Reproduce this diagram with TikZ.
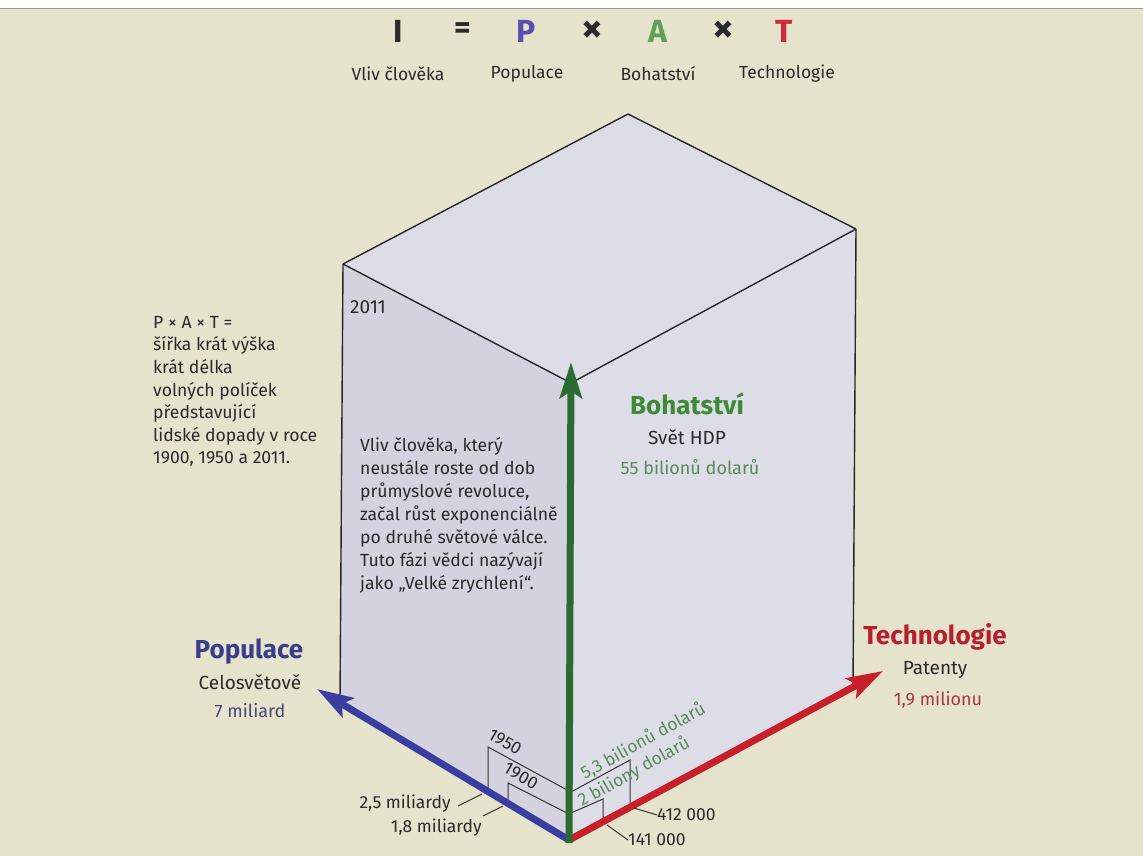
\documentclass[tikz,border=0pt]{standalone}
\usepackage{fontspec}
\setmainfont{Fira Sans}
\usetikzlibrary{arrows.meta}
\definecolor{bg}{HTML}{E6E3CD}
\definecolor{topface}{HTML}{DCDCE6}
\definecolor{leftface}{HTML}{D3D2DE}
\definecolor{rightface}{HTML}{DDDDE8}
\definecolor{popblue}{HTML}{3A3EA0}
\definecolor{wealthgreen}{HTML}{2B6B32}
\definecolor{techred}{HTML}{C8202B}
\definecolor{ptitle}{HTML}{383D8C}
\definecolor{pval}{HTML}{45467A}
\definecolor{atitle}{HTML}{3F8A35}
\definecolor{aval}{HTML}{5A8A5A}
\definecolor{ttitle}{HTML}{B51F2E}
\definecolor{tval}{HTML}{A8383C}
\definecolor{eqP}{HTML}{5B4FAE}
\definecolor{eqA}{HTML}{5EA257}
\definecolor{eqT}{HTML}{D0293B}
\definecolor{ink}{HTML}{2A2A2A}
\tikzset{
  edge/.style={draw=black!85, line width=1.4pt, line join=round},
  thin/.style={draw=black!80, line width=1pt},
  axisarrow/.style={line width=7pt, -{Stealth[length=36pt,width=22pt,inset=7pt]}},
  eq/.style={font=\fontsize{32}{32}\selectfont\bfseries, anchor=center, inner sep=0pt},
  eqx/.style={font=\fontsize{42}{42}\selectfont\bfseries, anchor=center, inner sep=0pt, text=ink},
  eqlab/.style={font=\fontsize{17.5}{17.5}\selectfont, text=ink, anchor=center, inner sep=0pt},
  body/.style={font=\fontsize{17.6}{22.6}\selectfont, text=ink, align=left, inner sep=0pt},
  axtitle/.style={font=\fontsize{26}{26}\selectfont\bfseries, anchor=center, inner sep=0pt},
  axsub/.style={font=\fontsize{19}{19}\selectfont, text=ink, anchor=center, inner sep=0pt},
  axval/.style={font=\fontsize{18}{18}\selectfont, anchor=center, inner sep=0pt},
  small/.style={font=\fontsize{17.5}{17.5}\selectfont, text=ink, inner sep=0pt},
}
\begin{document}
\begin{tikzpicture}[x=1pt,y=-1pt]
\useasboundingbox (0,0) rectangle (1143,856);
\fill[bg] (0,0) rectangle (1143,856);
\fill[white!96!bg] (0,0) rectangle (1143,8);
\draw[black!40, line width=0.8pt] (0,8) -- (1143,8);

% box corners
\coordinate (T) at (628,114);
\coordinate (L) at (343,264);
\coordinate (R) at (856,229);
\coordinate (F) at (571,383);
\coordinate (B) at (569,840);
\coordinate (BL) at (340,700);
\coordinate (BR) at (853,687);

\fill[topface] (T) -- (R) -- (F) -- (L) -- cycle;
\fill[leftface] (L) -- (F) -- (B) -- (BL) -- cycle;
\fill[rightface] (F) -- (R) -- (BR) -- (B) -- cycle;
\draw[edge] (L) -- (T) -- (R);
\draw[edge] (L) -- (F) -- (R);
\draw[edge] (L) -- (BL);
\draw[edge] (R) -- (BR);

% small boxes on left face
\coordinate (a1) at (488,792);
\coordinate (a2) at (488,747);
\coordinate (a3) at (569,791);
\coordinate (b1) at (508,803);
\coordinate (b2) at (508,783);
\coordinate (b3) at (569,814);
\draw[thin] (a1) -- (a2) -- (a3);
\draw[thin] (b1) -- (b2) -- (b3);
% small boxes on right face
\coordinate (c1) at (571,792);
\coordinate (c2) at (630,760);
\coordinate (c3) at (630,807);
\coordinate (d1) at (571,813);
\coordinate (d2) at (603,799);
\coordinate (d3) at (603,822);
\draw[thin] (c1) -- (c2) -- (c3);
\draw[thin] (d1) -- (d2) -- (d3);

% axes
\coordinate (Ptip) at (317,689);
\coordinate (Atip) at (571,362);
\coordinate (Ttip) at (883,671);
\draw[axisarrow, popblue] (B) -- (Ptip);
\draw[axisarrow, techred] (B) -- (Ttip);
\draw[axisarrow, wealthgreen] (569,843) -- (Atip);

% equation
\node[eq, text=ink] (eqI) at (398,31) {I};
\node[eq, text=ink] (eqeq) at (463,31) {=};
\node[eq, text=eqP] (eqP) at (526,31) {P};
\node[eqx] (eqx1) at (592,32) {×};
\node[eq, text=eqA] (eqA) at (658,31) {A};
\node[eqx] (eqx2) at (723,32) {×};
\node[eq, text=eqT] (eqT) at (784,31) {T};
\node[eqlab] (lI) at (398,74) {Vliv člověka};
\node[eqlab] (lP) at (527,74) {Populace};
\node[eqlab] (lA) at (658,74) {Bohatství};
\node[eqlab] (lT) at (787,74) {Technologie};

% texts
\node[body, anchor=north west] (lefttext) at (153,316) {P × A × T =\\šířka krát výška\\krát délka\\volných políček\\představující\\lidské dopady v roce\\1900, 1950 a 2011.};
\node[small, font=\fontsize{19}{19}\selectfont, anchor=west] (y2011) at (350,307) {2011};
\node[body, anchor=north west, font=\fontsize{17.6}{23}\selectfont] (midtext) at (360,437) {Vliv člověka, který\\neustále roste od dob\\průmyslové revoluce,\\začal růst exponenciálně\\po druhé světové válce.\\Tuto fázi vědci nazývají\\jako „Velké zrychlení“.};

\node[axtitle, text=atitle] (tA) at (687,404) {Bohatství};
\node[axsub] (sA) at (687,437) {Svět HDP};
\node[axval, text=aval] (vA) at (690,467) {55 bilionů dolarů};

\node[axtitle, text=ttitle] (tT) at (935,637) {Technologie};
\node[axsub] (sT) at (935,670) {Patenty};
\node[axval, text=tval] (vT) at (938,700) {1,9 milionu};

\node[axtitle, text=ptitle] (tP) at (249,652) {Populace};
\node[axsub] (sP) at (250,682) {Celosvětově};
\node[axval, text=pval] (vP) at (250,711) {7 miliard};

% bottom annotations
\node[small, rotate=-30] (y1950) at (505,742) {1950};
\node[small, rotate=-30] (y1900) at (521,776) {1900};
\node[small, anchor=east] (p25) at (451,804) {2,5 miliardy};
\node[small, anchor=east] (p18) at (482,828) {1,8 miliardy};
\coordinate (p25e) at (482,794);
\coordinate (p18e) at (503,806);
\draw[thin] (458,806) -- (p25e);
\draw[thin] (483,816) -- (p18e);
\node[small, text=aval, rotate=29] (w53) at (643,741) {5,3 bilionů dolarů};
\node[small, text=aval, rotate=29] (w2) at (634,772) {2 biliony dolarů};
\node[small, anchor=west] (t412) at (657,815) {412 000};
\node[small, anchor=west] (t141) at (628,840) {141 000};
\coordinate (t412e) at (634,808);
\coordinate (t141e) at (607,825);
\draw[thin] (t412e) -- (t412.west);
\draw[thin] (t141e) -- (t141.west);
\end{tikzpicture}
\end{document}
